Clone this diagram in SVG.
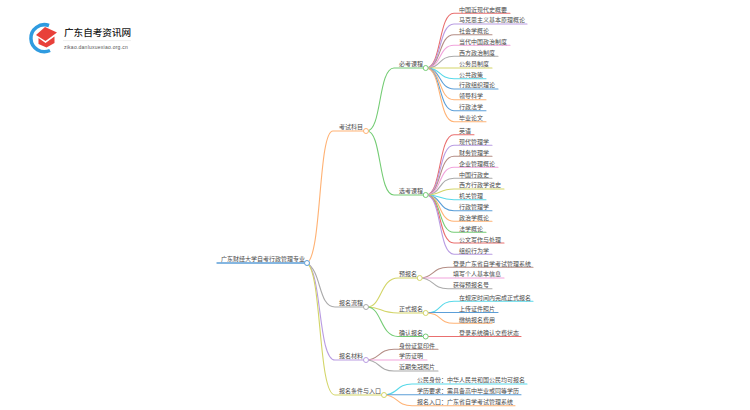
<svg xmlns="http://www.w3.org/2000/svg" width="750" height="410" viewBox="0 0 750 410">
<style>
text{font-family:"Liberation Sans","Noto Sans CJK SC",sans-serif;font-size:6px;fill:#4a4a4a}
#connectors path{fill:none;stroke-width:1.100;stroke-linecap:round}
circle{fill:#fff;stroke-width:1}
.red{stroke:#e96f6f}.pur{stroke:#b99ce2}.bro{stroke:#b48d85}.pin{stroke:#f1a3dc}.gra{stroke:#aaa}.oli{stroke:#d3d568}.cya{stroke:#58d9e9}.blu{stroke:#5c9fd8}.ora{stroke:#ffb274}.gre{stroke:#74cc74}
</style>
<g id="logo">
<path d="M49 25.500A13.500 13.500 0 1 0 50 50.500" fill="none" stroke="#2f9be0" stroke-width="3.500"/>
<path d="M36 35L45 27L57 32.500L45.500 41Z" fill="#e8403a"/>
<path d="M38.500 38L45.500 43L54.500 36.500V43L46.500 47.500L38.500 44Z" fill="#e8403a"/>
<text x="64" y="35.500" style="font-size:9.600px;fill:#222;font-weight:500">广东自考资讯网</text>
<path d="M63 40.600H131" stroke="#e2e2e2" stroke-width="0.600"/>
<text x="64" y="48.500" style="font-size:5px;fill:#555;letter-spacing:0.250px">zikao.danluxuexiao.org.cn</text>
</g>
<g id="connectors">
<path class="blu" style="stroke-width:1.300" d="M217 263H304"/>
<path class="ora" d="M307 263C322 255 318 131 333 131H364" />
<path class="gra" d="M307 263C322 272 318 307 335 307H364"/>
<path class="pur" d="M307 263C322 272 318 360 335 360H364"/>
<path class="oli" d="M307 263C322 272 318 395 335 395H382"/>
<path class="gre" d="M367 131C382 131 378 68 394 68H424"/>
<path class="gre" d="M367 131C382 131 378 195 394 195H424"/>
<path class="oli" d="M367 307C382 307 380 278 398 278H418"/>
<path class="oli" d="M367 307C382 307 380 313 398 313H424"/>
<path class="gre" d="M367 307C382 307 380 336.500 398 336.500H424"/>
<path class="red" d="M426 68C442 68 438 13.300 454 13.300H510"/>
<path class="pur" d="M426 68C442 68 438 24 454 24H527"/>
<path class="bro" d="M426 68C442 68 438 34.700 454 34.700H492"/>
<path class="pin" d="M426 68C442 68 438 45.300 454 45.300H510"/>
<path class="gra" d="M426 68C442 68 438 56.300 454 56.300H498"/>
<path class="oli" d="M426 68H492"/>
<path class="cya" d="M426 68C442 68 438 78.700 454 78.700H486"/>
<path class="blu" d="M426 68C442 68 438 89 454 89H498"/>
<path class="ora" d="M426 68C442 68 438 99.700 454 99.700H486"/>
<path class="blu" d="M426 68C442 68 438 110.700 454 110.700H486"/>
<path class="ora" d="M426 68C442 68 438 121.700 454 121.700H486"/>
<path class="red" d="M426 195C442 195 438 134.700 454 134.700H474"/>
<path class="pur" d="M426 195C442 195 438 145.300 454 145.300H492"/>
<path class="bro" d="M426 195C442 195 438 156.300 454 156.300H492"/>
<path class="pin" d="M426 195C442 195 438 167.300 454 167.300H498"/>
<path class="gra" d="M426 195C442 195 438 178.300 454 178.300H492"/>
<path class="oli" d="M426 195C442 195 438 189 454 189H504"/>
<path class="cya" d="M426 195C442 195 438 199.700 454 199.700H486"/>
<path class="blu" d="M426 195C442 195 438 210.700 454 210.700H492"/>
<path class="ora" d="M426 195C442 195 438 221.300 454 221.300H492"/>
<path class="gre" d="M426 195C442 195 438 232.300 454 232.300H486"/>
<path class="red" d="M426 195C442 195 438 243 454 243H504"/>
<path class="pur" d="M426 195C442 195 438 254.300 454 254.300H492"/>
<path class="bro" d="M420 278C434 278 432 267.300 448 267.300H533"/>
<path class="pin" d="M420 278H504"/>
<path class="gra" d="M420 278C434 278 432 288.700 448 288.700H492"/>
<path class="cya" d="M426 313C442 313 438 301.300 454 301.300H533"/>
<path class="blu" d="M426 312.500H498"/>
<path class="ora" d="M426 313C442 313 438 323.300 454 323.300H492"/>
<path class="red" d="M426 336.500H521"/>
<path class="bro" d="M366 360C380 360 378 349.300 394 349.300H438"/>
<path class="pin" d="M366 360H427"/>
<path class="gra" d="M366 360C380 360 378 371 394 371H438"/>
<path class="cya" d="M384 395C398 395 396 384 412 384H527"/>
<path class="blu" d="M384 394.700H521"/>
<path class="ora" d="M384 395C398 395 396 405.700 412 405.700H515"/>
</g>
<g id="root"><text x="221" y="260.500">广东财经大学自考行政管理专业</text><circle class="blu" cx="307" cy="263" r="2.500"/></g>
<g id="n-kaoshi"><text x="339" y="129">考试科目</text><circle class="ora" cx="366" cy="131" r="2.500"/></g>
<g id="n-bikao"><text x="399" y="66">必考课程</text><circle class="gre" cx="425.700" cy="68" r="2.500"/></g>
<g id="n-xuankao"><text x="399" y="192.500">选考课程</text><circle class="gre" cx="425.700" cy="195" r="2.500"/></g>
<g id="n-liucheng"><text x="339" y="305">报名流程</text><circle class="gra" cx="366" cy="307" r="2.500"/></g>
<g id="n-cailiao"><text x="339" y="358">报名材料</text><circle class="pur" cx="366" cy="360" r="2.500"/></g>
<g id="n-tiaojian"><text x="339" y="393">报名条件与入口</text><circle class="oli" cx="384" cy="395" r="2.500"/></g>
<g id="n-yubao"><text x="399" y="276">预报名</text><circle class="oli" cx="419.700" cy="278" r="2.500"/></g>
<g id="n-zhengshi"><text x="399" y="311">正式报名</text><circle class="oli" cx="425.700" cy="313" r="2.500"/></g>
<g id="n-queren"><text x="399" y="334.500">确认报名</text><circle class="gre" cx="425.700" cy="336.500" r="2.500"/></g>
<g id="leaves">
<text x="459" y="11.500">中国近现代史概要</text>
<text x="459" y="22">马克思主义基本原理概论</text>
<text x="459" y="33">社会学概论</text>
<text x="459" y="43.500">当代中国政治制度</text>
<text x="459" y="54.500">西方政治制度</text>
<text x="459" y="65.500">公务员制度</text>
<text x="459" y="76.500">公共政策</text>
<text x="459" y="87">行政组织理论</text>
<text x="459" y="98">领导科学</text>
<text x="459" y="109">行政法学</text>
<text x="459" y="120">毕业论文</text>
<text x="459" y="133">英语</text>
<text x="459" y="143.500">现代管理学</text>
<text x="459" y="154.500">财务管理学</text>
<text x="459" y="165.500">企业管理概论</text>
<text x="459" y="176.500">中国行政史</text>
<text x="459" y="187">西方行政学说史</text>
<text x="459" y="198">机关管理</text>
<text x="459" y="209">行政管理学</text>
<text x="459" y="219.500">政治学概论</text>
<text x="459" y="230.500">法学概论</text>
<text x="459" y="241.500">公文写作与处理</text>
<text x="459" y="252.500">组织行为学</text>
<text x="453" y="265.500">登录广东省自学考试管理系统</text>
<text x="453" y="276">填写个人基本信息</text>
<text x="453" y="287">获得预报名号</text>
<text x="459" y="299.500">在规定时间内完成正式报名</text>
<text x="459" y="310.500">上传证件照片</text>
<text x="459" y="321.500">缴纳报名费用</text>
<text x="459" y="334.500">登录系统确认交费状态</text>
<text x="399" y="347.500">身份证复印件</text>
<text x="399" y="358">学历证明</text>
<text x="399" y="369">近期免冠照片</text>
<text x="417" y="382">公民身份：中华人民共和国公民均可报名</text>
<text x="417" y="393">学历要求：需具备高中毕业或同等学历</text>
<text x="417" y="404">报名入口：广东省自学考试管理系统</text>
</g>
</svg>
